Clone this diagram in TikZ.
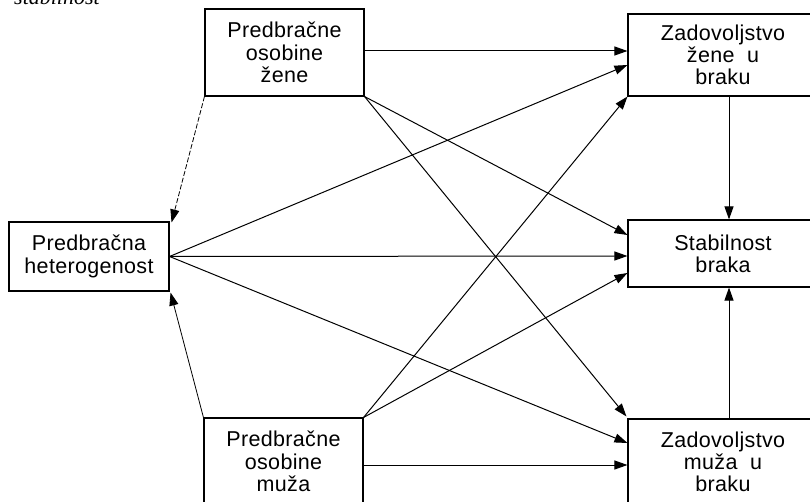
\documentclass[tikz,border=0pt]{standalone}
\usepackage{fontspec}
\setmainfont{Liberation Sans}[LetterSpace=1.5]
\newfontfamily\capfont{Liberation Serif}
\usetikzlibrary{arrows.meta}
\begin{document}
\begin{tikzpicture}[x=1pt,y=-1pt,
  box/.style={draw, line width=1.1pt, inner sep=0pt, align=center,
    font=\fontsize{21.5}{22.3}\selectfont},
  arr/.style={-{Triangle[length=13pt,width=9pt]}, line width=1pt},
  darr/.style={arr, dash pattern=on 5pt off 2pt, line width=0.8pt},
  tarr/.style={arr, line width=0.8pt}]
\useasboundingbox (0,0) rectangle (810,502);
\clip (0,0) rectangle (810,502);
\node[anchor=base west, inner sep=0pt, font=\capfont\itshape\fontsize{22}{26}\selectfont] (cap) at (14,5) {stabilnost};
\node[box, minimum width=159pt, minimum height=87pt] (PZ) at (284.5,52.5) {Predbračne\\osobine\\žene};
\node[box, minimum width=190pt, minimum height=82pt] (ZZ) at (723,55) {Zadovoljstvo\\žene~ u\\braku};
\node[box, minimum width=160pt, minimum height=69pt] (PH) at (89,256.5) {Predbračna\\heterogenost};
\node[box, minimum width=190pt, minimum height=67pt] (ST) at (723,253.5) {Stabilnost\\braka};
\node[box, minimum width=159pt, minimum height=87pt] (PM) at (283.5,461.5) {Predbračne\\osobine\\muža};
\node[box, minimum width=190pt, minimum height=86pt] (ZM) at (723,462) {Zadovoljstvo\\muža~ u\\braku};
% to ZZ
\draw[arr] ([yshift=1.5pt]PZ.east) -- ([yshift=4pt]ZZ.west);
\draw[arr] (PH.east) -- ([yshift=-10pt]ZZ.west);
\draw[arr] (PM.north east) -- (ZZ.south west);
% to ST
\draw[arr] (PZ.south east) -- ([yshift=18.5pt]ST.west);
\draw[arr] (PH.east) -- ([yshift=-2.5pt]ST.west);
\draw[arr] (PM.north east) -- ([yshift=-19.5pt]ST.west);
% to ZM
\draw[arr] (PZ.south east) -- ([shift={(-1pt,2pt)}]ZM.north west);
\draw[arr] (PH.east) -- ([yshift=19pt]ZM.west);
\draw[arr] ([yshift=-3.5pt]PM.east) -- ([yshift=-3pt]ZM.west);
% verticals
\draw[arr] ([xshift=6pt]ZZ.south) -- ([xshift=6pt]ST.north);
\draw[arr] ([xshift=6pt]ZM.north) -- ([xshift=6pt]ST.south);
% to PH
\draw[darr] (PZ.south west) -- ([shift={(2pt,-1pt)}]PH.north east);
\draw[tarr] (PM.north west) -- ([shift={(1pt,-1pt)}]PH.south east);
\end{tikzpicture}
\end{document}
